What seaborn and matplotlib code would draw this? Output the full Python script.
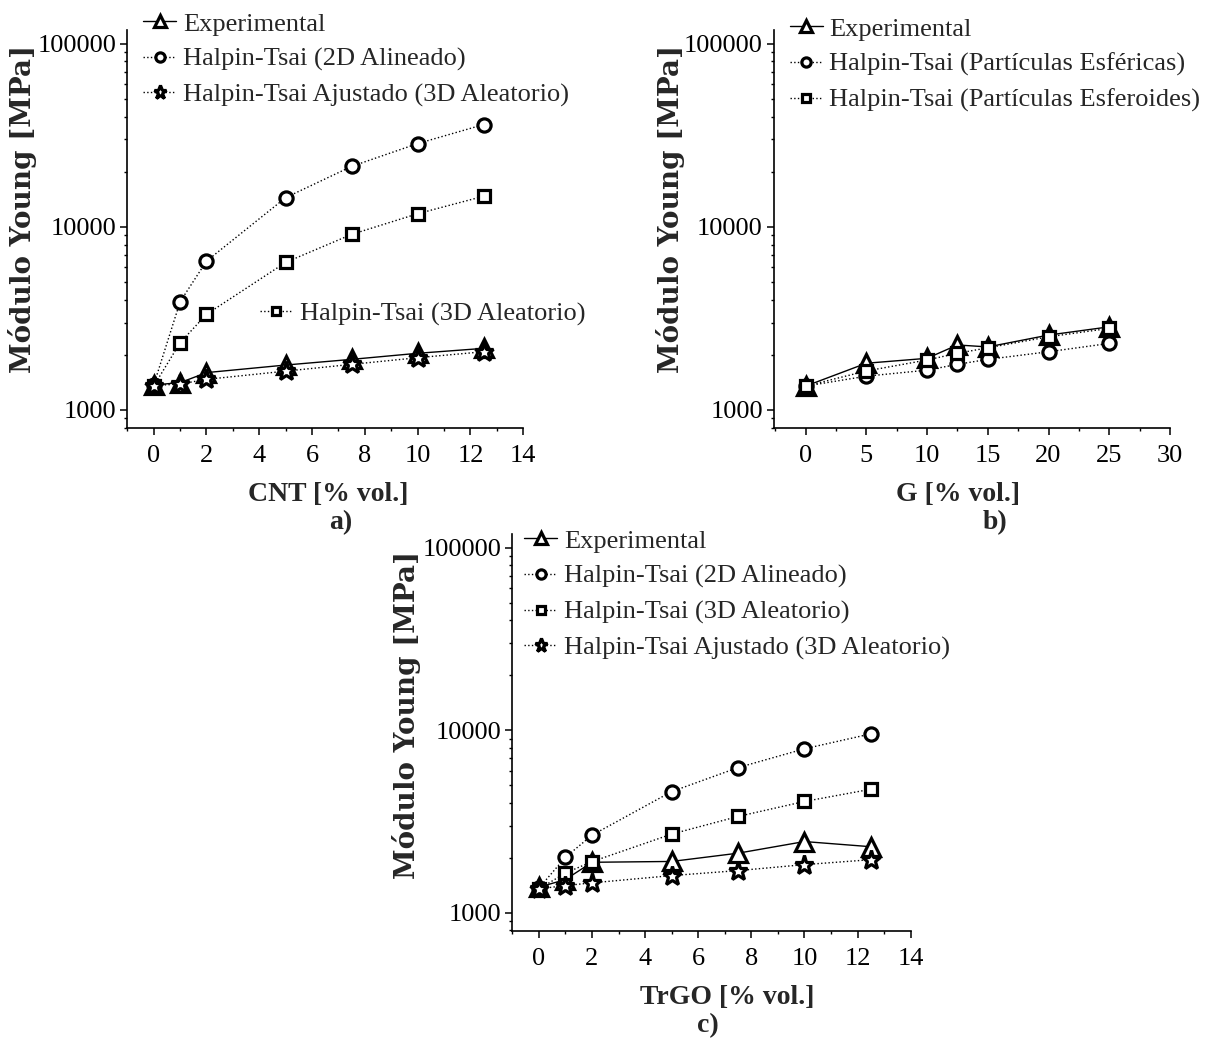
import matplotlib
matplotlib.use("Agg")
import matplotlib.pyplot as plt
import seaborn as sns
from matplotlib.ticker import FixedLocator, FixedFormatter, MultipleLocator, LogLocator, NullFormatter

# ---- CNT composites ----
cnt_x = [0, 1, 2, 5, 7.5, 10, 12.5]
cnt_exp = [1370, 1410, 1600, 1760, 1890, 2040, 2170]
cnt_ht2d = [1368, 3900, 6500, 14450, 21400, 28500, 36200]
cnt_ht3d = [1350, 2330, 3330, 6400, 9100, 11800, 14700]
cnt_adj = [1360, 1386, 1470, 1630, 1775, 1930, 2080]

# ---- Graphite composites ----
g_x = [0, 5, 10, 12.5, 15, 20, 25]
g_exp = [1350, 1800, 1915, 2265, 2210, 2565, 2845]
g_sph = [1350, 1530, 1650, 1775, 1890, 2080, 2310]
g_spheroid = [1350, 1633, 1875, 2040, 2185, 2510, 2790]

# ---- TrGO composites ----
trgo_x = [0, 1, 2, 5, 7.5, 10, 12.5]
trgo_exp = [1380, 1520, 1890, 1910, 2120, 2455, 2300]
trgo_ht2d = [1363, 2013, 2660, 4610, 6240, 7910, 9550]
trgo_ht3d = [1350, 1650, 1905, 2697, 3370, 4070, 4750]
trgo_adj = [1352, 1409, 1458, 1598, 1702, 1835, 1953]

lbl_exp = "Experimental"
lbl_2d = "Halpin-Tsai (2D Alineado)"
lbl_3d = "Halpin-Tsai (3D Aleatorio)"
lbl_adj = "Halpin-Tsai Ajustado (3D Aleatorio)"
lbl_sph = "Halpin-Tsai (Partículas Esféricas)"
lbl_spd = "Halpin-Tsai (Partículas Esferoides)"

sns.set_style("ticks")
plt.rcParams.update({
    "font.family": ["Liberation Serif", "DejaVu Serif"],
    "axes.linewidth": 1.2,
    "xtick.major.width": 1.1, "ytick.major.width": 1.1,
    "xtick.minor.width": 1.0, "ytick.minor.width": 1.0,
    "xtick.major.size": 5, "ytick.major.size": 5,
    "xtick.minor.size": 2.5, "ytick.minor.size": 2.5,
    "xtick.direction": "out", "ytick.direction": "out",
    "xtick.color": "black", "ytick.color": "black",
    "axes.edgecolor": "black",
})

STYLES = {
    "exp": dict(marker="^", linestyle="-", markersize=12.5),
    "circ": dict(marker="o", linestyle=":", markersize=9.5),
    "sq": dict(marker="s", linestyle=":", markersize=9),
    "star": dict(marker="*", linestyle=":", markersize=14),
}

TICK_FONT = dict(family="Liberation Serif", size=19)
LEG_FONT = dict(family="Liberation Serif", size=19)


def draw(ax, x, y, kind, label):
    st = STYLES[kind]
    sns.lineplot(x=x, y=y, ax=ax, color="black", linewidth=1.0,
                 marker=st["marker"], linestyle=st["linestyle"],
                 markersize=st["markersize"], markerfacecolor="white",
                 markeredgecolor="black", markeredgewidth=2.3,
                 label=label, legend=False)


def style_axes(ax, xmin, xmax, xmajor, xminor, xlabel, xlab_pos, ylab_pos, tag, tag_pos):
    ax.set_yscale("log")
    ax.set_ylim(10 ** 2.9, 10 ** 5.075)
    ax.set_xlim(xmin, xmax)
    ax.yaxis.set_major_locator(FixedLocator([1000, 10000, 100000]))
    ax.yaxis.set_major_formatter(FixedFormatter(["1000", "10000", "100000"]))
    ax.yaxis.set_minor_locator(LogLocator(base=10, subs=range(2, 10)))
    ax.yaxis.set_minor_formatter(NullFormatter())
    ax.xaxis.set_major_locator(MultipleLocator(xmajor))
    ax.xaxis.set_minor_locator(MultipleLocator(xminor))
    for t in ax.get_xticklabels() + ax.get_yticklabels():
        t.set_fontfamily(TICK_FONT["family"])
        t.set_fontsize(TICK_FONT["size"])
    ax.tick_params(axis="x", pad=7)
    ax.tick_params(axis="y", pad=3)
    sns.despine(ax=ax)
    ax.set_xlabel(xlabel, fontfamily="Liberation Serif", fontweight="bold", fontsize=20)
    ax.xaxis.set_label_coords(*xlab_pos)
    ax.set_ylabel("Módulo Young [MPa]", fontfamily="DejaVu Serif", fontweight="bold", fontsize=20)
    ax.yaxis.set_label_coords(*ylab_pos)
    ax.text(tag_pos[0], tag_pos[1], tag, transform=ax.transAxes, ha="center", va="center",
            fontfamily="Liberation Serif", fontweight="bold", fontsize=20)


def add_legend(ax, handles, labels, anchor):
    return ax.legend(handles, labels, loc="upper left", bbox_to_anchor=anchor,
                     frameon=False, prop=LEG_FONT, handlelength=1.25, handletextpad=0.25,
                     labelspacing=0.45, borderpad=0, borderaxespad=0, markerscale=0.7)


W, H = 1228, 1038
fig = plt.figure(figsize=(W / 100, H / 100), dpi=100)
fig.patch.set_facecolor("white")

ax_a = fig.add_axes([127.3 / W, 1 - 428.3 / H, 396 / W, 398.3 / H])
ax_b = fig.add_axes([774 / W, 1 - 428.3 / H, 396 / W, 398.3 / H])
ax_c = fig.add_axes([512.3 / W, 1 - 931 / H, 398.4 / W, 397 / H])

# a) CNT
draw(ax_a, cnt_x, cnt_exp, "exp", lbl_exp)
draw(ax_a, cnt_x, cnt_ht2d, "circ", lbl_2d)
draw(ax_a, cnt_x, cnt_ht3d, "sq", lbl_3d)
draw(ax_a, cnt_x, cnt_adj, "star", lbl_adj)
style_axes(ax_a, -1, 14, 2, 1, "CNT [% vol.]", (0.508, -0.135), (-0.228, 0.55), "a)", (0.538, -0.238))
h, l = ax_a.get_legend_handles_labels()
leg1 = add_legend(ax_a, [h[0], h[1], h[3]], [l[0], l[1], l[3]], (0.04, 1.045))
ax_a.add_artist(leg1)
add_legend(ax_a, [h[2]], [l[2]], (0.335, 0.318))

# b) G
draw(ax_b, g_x, g_exp, "exp", lbl_exp)
draw(ax_b, g_x, g_sph, "circ", lbl_sph)
draw(ax_b, g_x, g_spheroid, "sq", lbl_spd)
style_axes(ax_b, -2.6, 30, 5, 2.5, "G [% vol.]", (0.465, -0.135), (-0.225, 0.55), "b)", (0.559, -0.238))
h, l = ax_b.get_legend_handles_labels()
add_legend(ax_b, h, l, (0.04, 1.032))

# c) TrGO
draw(ax_c, trgo_x, trgo_exp, "exp", lbl_exp)
draw(ax_c, trgo_x, trgo_ht2d, "circ", lbl_2d)
draw(ax_c, trgo_x, trgo_ht3d, "sq", lbl_3d)
draw(ax_c, trgo_x, trgo_adj, "star", lbl_adj)
style_axes(ax_c, -1, 14, 2, 1, "TrGO [% vol.]", (0.54, -0.135), (-0.228, 0.545), "c)", (0.49, -0.238))
h, l = ax_c.get_legend_handles_labels()
add_legend(ax_c, h, l, (0.03, 1.012))

fig.savefig("out.png", dpi=100, facecolor="white")
